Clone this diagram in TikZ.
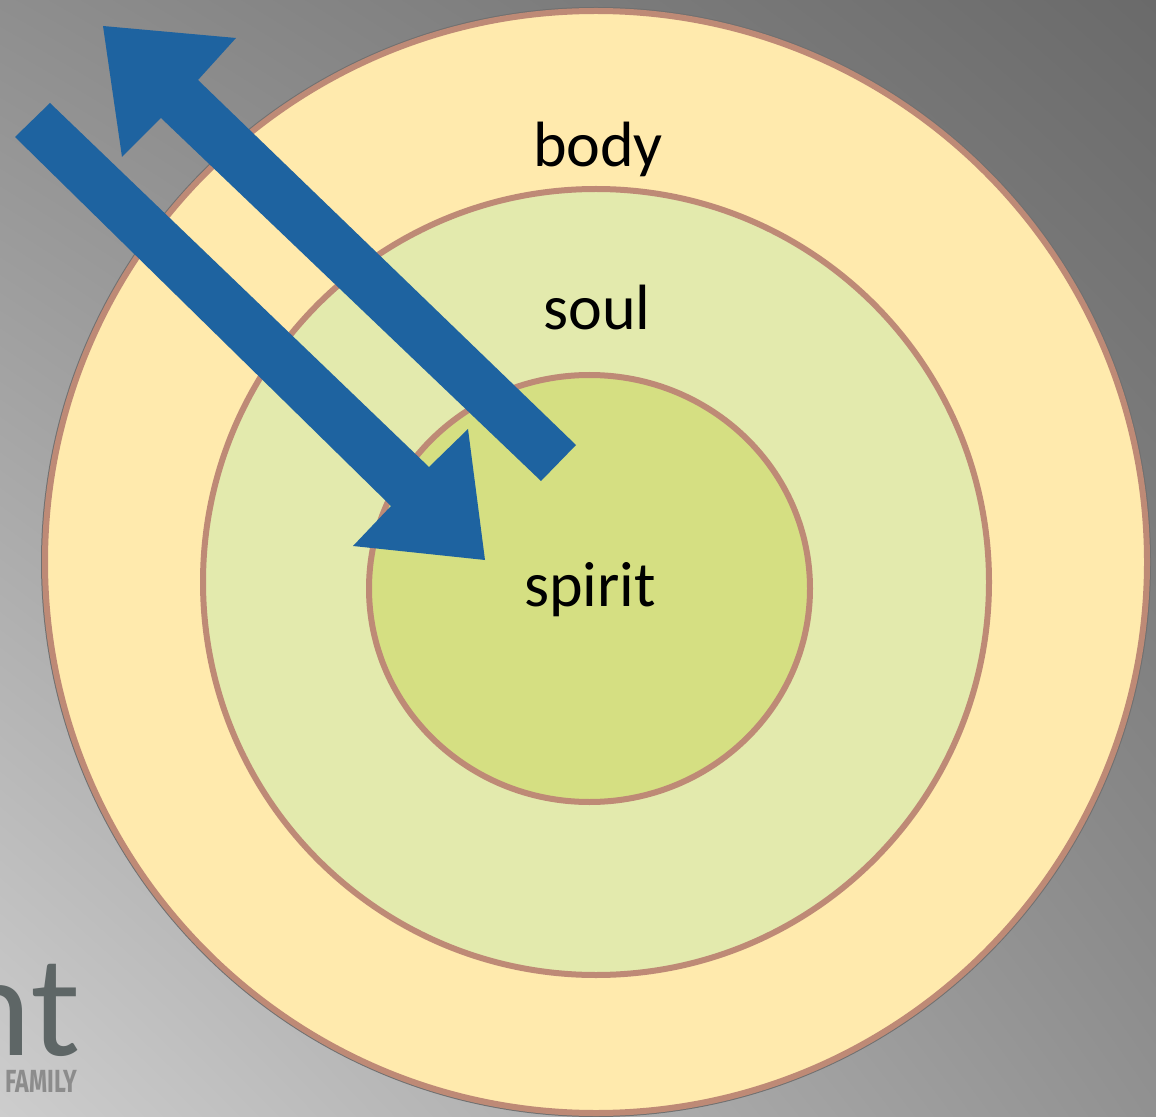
\documentclass[tikz,border=0pt]{standalone}
\usepackage{fontspec}
\setmainfont{Carlito}
\newfontfamily\logofont{Lato}
\newfontfamily\famfont[FakeStretch=0.72]{Fira Sans}
\usetikzlibrary{shapes.geometric,shadings}
\definecolor{bodyc}{HTML}{FFEAAD}
\definecolor{soulc}{HTML}{E3EAAD}
\definecolor{spiritc}{HTML}{D5DF82}
\definecolor{ringc}{HTML}{BE8A76}
\definecolor{arrowc}{HTML}{1E63A0}
\definecolor{logoc}{HTML}{5E6666}
\definecolor{famc}{HTML}{8C8C8C}
\definecolor{bgUL}{HTML}{8E8E8E}
\definecolor{bgUR}{HTML}{6A6A6A}
\definecolor{bgLL}{HTML}{CDCDCD}
\definecolor{bgLR}{HTML}{919191}
\definecolor{edgec}{HTML}{707070}
\tikzset{
  ring/.style={draw=ringc, line width=3pt, inner sep=0pt, outer sep=0pt},
  lbl/.style={font=\fontsize{32}{38}\selectfont, text=black, inner sep=0pt},
  bigarrow/.style={fill=arrowc, draw=none}
}
\begin{document}
\begin{tikzpicture}[x=0.5pt,y=-0.5pt]
\useasboundingbox (0,0) rectangle (1156,1117);
\clip (0,0) rectangle (1156,1117);
% background
\shade[upper left=bgUL, upper right=bgUR, lower left=bgLL, lower right=bgLR] (0,0) rectangle (1156,1117);
% logo
\node[anchor=base east, text=logoc, font=\logofont\fontsize{68}{70}\selectfont, inner sep=0pt] (logo) at (80,1055) {nt};
\node[anchor=base east, text=famc, font=\famfont\bfseries\fontsize{16}{18}\selectfont, inner sep=0pt] (family) at (78,1092) {FAMILY};
% rings
\node[circle, draw=edgec, line width=1pt, minimum size=554pt, inner sep=0pt] (bodyedge) at (596,562) {};
\node[ring, circle, fill=bodyc, minimum size=551pt] (bodyring) at (596,562) {};
\node[ring, circle, fill=soulc, minimum size=393pt] (soulring) at (596,582) {};
\node[ring, ellipse, fill=spiritc, minimum width=220.5pt, minimum height=213.5pt] (spiritring) at (589.5,588.5) {};
% labels
\node[lbl, anchor=base] (bodytxt) at (598,167) {body};
\node[lbl, anchor=base] (soultxt) at (597,330) {soul};
\node[lbl, anchor=base] (spirittxt) at (590,606) {spirit};
% arrows
\fill[bigarrow] (541,481) -- (161,118) -- (122,157) -- (103,26) -- (236,38) -- (198,80) -- (576,445) -- cycle;
\fill[bigarrow] (50,103) -- (429,467) -- (468,429) -- (485,560) -- (353,546) -- (391,506) -- (15,137) -- cycle;
\end{tikzpicture}
\end{document}
